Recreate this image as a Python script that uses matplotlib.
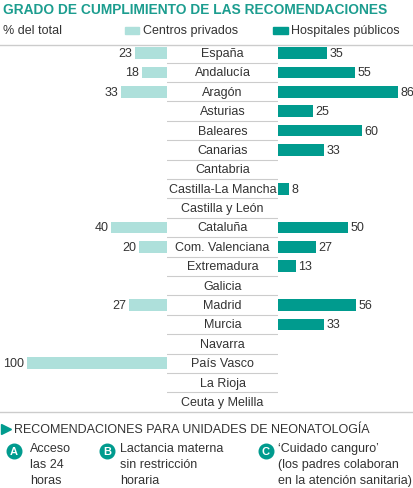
import matplotlib
matplotlib.use("Agg")
import matplotlib.pyplot as plt
from matplotlib.lines import Line2D
import numpy as np

regiones = ["España", "Andalucía", "Aragón", "Asturias", "Baleares", "Canarias",
            "Cantabria", "Castilla-La Mancha", "Castilla y León", "Cataluña",
            "Com. Valenciana", "Extremadura", "Galicia", "Madrid", "Murcia",
            "Navarra", "País Vasco", "La Rioja", "Ceuta y Melilla"]
privados = [23, 18, 33, 0, 0, 0, 0, 0, 0, 40, 20, 0, 0, 27, 0, 0, 100, 0, 0]
publicos = [35, 55, 86, 25, 60, 33, 0, 8, 0, 50, 27, 13, 0, 56, 33, 0, 0, 0, 0]

CLARO = "#aee0db"
OSCURO = "#009b8e"
TITULO = "#1c9d8f"
GRIS = "#333333"
LINEA = "#cccccc"

plt.rcParams['font.family'] = ['Liberation Sans', 'DejaVu Sans']

W, H = 414, 489
fig = plt.figure(figsize=(W / 100, H / 100), dpi=100)


def fx(x):
    return x / W


def fy(y):
    return 1 - y / H


n = len(regiones)
y = np.arange(n)
top_px, bot_px = 44.3, 412.7


def make_ax(x0, x1):
    ax = fig.add_axes([fx(x0), fy(bot_px), (x1 - x0) / W, (bot_px - top_px) / H])
    ax.set_ylim(n - 0.5, -0.5)
    ax.axis("off")
    return ax


# izquierda: centros privados
axl = make_ax(27, 167)
axl.set_xlim(100, 0)
axl.barh(y, privados, height=0.6, color=CLARO)
for i, v in enumerate(privados):
    if v:
        axl.annotate(str(v), (v, i), xytext=(-2, 0), textcoords="offset points",
                     ha="right", va="center", fontsize=9, color=GRIS)

# columna central con los nombres
axc = make_ax(167, 278)
axc.set_xlim(0, 1)
for i in range(n - 1):
    axc.axhline(i + 0.5, color=LINEA, linewidth=0.8)
for i, r in enumerate(regiones):
    axc.text(0.5, i, r, ha="center", va="center", fontsize=9, color=GRIS)

# derecha: hospitales públicos
axr = make_ax(278, 414)
axr.set_xlim(0, 136 / 1.4)
axr.barh(y, publicos, height=0.6, color=OSCURO)
for i, v in enumerate(publicos):
    if v:
        axr.annotate(str(v), (v, i), xytext=(1.5, 0), textcoords="offset points",
                     ha="left", va="center", fontsize=9, color=GRIS)

# cabecera
fig.text(fx(3), fy(10), "GRADO DE CUMPLIMIENTO DE LAS RECOMENDACIONES",
         fontsize=9.9, fontweight="bold", color=TITULO, va="center", ha="left")
fig.text(fx(3), fy(31), "% del total", fontsize=9, color=GRIS, va="center")
fig.patches.append(plt.Rectangle((fx(125), fy(35)), 14 / W, 7 / H, color=CLARO,
                                 transform=fig.transFigure, figure=fig))
fig.text(fx(143), fy(31), "Centros privados", fontsize=9, color=GRIS, va="center")
fig.patches.append(plt.Rectangle((fx(273), fy(35)), 15 / W, 7 / H, color=OSCURO,
                                 transform=fig.transFigure, figure=fig))
fig.text(fx(291), fy(31), "Hospitales públicos", fontsize=9, color=GRIS, va="center")

fig.lines.append(Line2D([0, 1], [fy(46), fy(46)], color=LINEA, linewidth=1,
                        transform=fig.transFigure, figure=fig))
fig.lines.append(Line2D([0, 1], [fy(413), fy(413)], color=LINEA, linewidth=1,
                        transform=fig.transFigure, figure=fig))

# pie
fig.lines.append(Line2D([fx(6)], [fy(430)], marker=">", markersize=7, color=OSCURO,
                        transform=fig.transFigure, figure=fig))
fig.text(fx(14), fy(430), "RECOMENDACIONES PARA UNIDADES DE NEONATOLOGÍA",
         fontsize=9, color=GRIS, va="center")

notas = [("A", 14, 30, "Acceso\nlas 24\nhoras"),
         ("B", 107, 120, "Lactancia materna\nsin restricción\nhoraria"),
         ("C", 266, 278, "‘Cuidado canguro’\n(los padres colaboran\nen la atención sanitaria)")]
for letra, cx, tx, texto in notas:
    fig.lines.append(Line2D([fx(cx)], [fy(452)], marker="o", markersize=10.5,
                            color=OSCURO, transform=fig.transFigure, figure=fig))
    fig.text(fx(cx), fy(452), letra, fontsize=8, fontweight="bold", color="white",
             ha="center", va="center")
    fig.text(fx(tx), fy(443), texto, fontsize=9, color=GRIS, va="top",
             linespacing=1.45)

fig.savefig("out.png", dpi=100)
